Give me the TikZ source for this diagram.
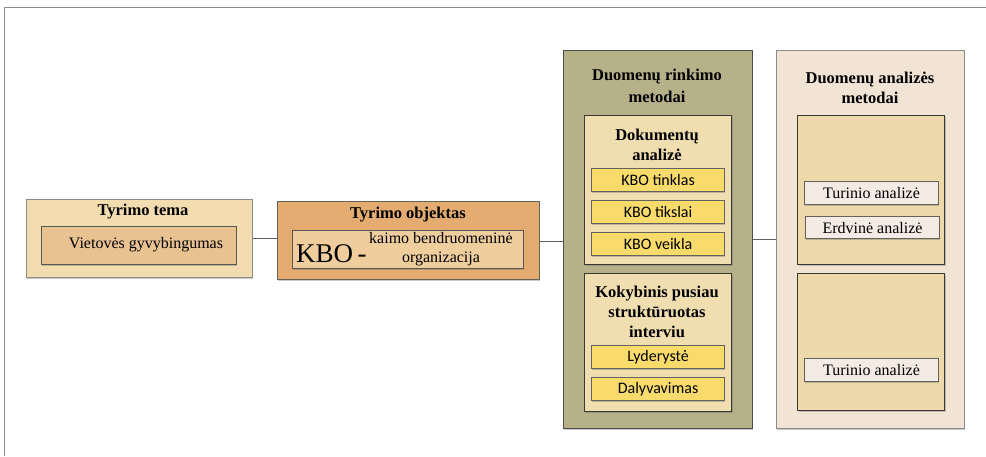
\documentclass[tikz,border=0pt]{standalone}
\usepackage{fontspec}
\setmainfont{Liberation Serif}
\newfontfamily\carlfont{Carlito}
\usetikzlibrary{shadows}
\definecolor{frameg}{HTML}{8A8A8A}
\definecolor{temaout}{HTML}{F3DDB0}
\definecolor{temain}{HTML}{E9C291}
\definecolor{objout}{HTML}{E4AC70}
\definecolor{objin}{HTML}{EFCD9C}
\definecolor{olive}{HTML}{B6B189}
\definecolor{innerc}{HTML}{F0DDB0}
\definecolor{yellowc}{HTML}{F9DB6C}
\definecolor{rightout}{HTML}{F2E4D4}
\definecolor{rightin}{HTML}{EDD9A9}
\definecolor{itemc}{HTML}{F4ECE4}
\definecolor{edge}{HTML}{3A3A35}
\tikzset{
  box/.style={draw=#1, rectangle, inner sep=0pt, anchor=north west,
    drop shadow={shadow xshift=0.8pt, shadow yshift=-1.2pt, opacity=0.35, fill=black!60}},
  outerbox/.style={box=frameg, line width=1.2pt},
  innerbox/.style={box=edge, line width=1.4pt},
  itembox/.style={box=edge!80, line width=1.1pt},
  ttl/.style={font=\fontsize{16.5}{20}\selectfont\bfseries, align=center, inner sep=0pt},
  itxt/.style={font=\carlfont\fontsize{16}{18}\selectfont, inner sep=0pt},
  stxt/.style={font=\fontsize{16}{18}\selectfont, inner sep=0pt},
  conn/.style={draw=edge!80, line width=0.9pt}
}
\begin{document}
\begin{tikzpicture}[x=1pt,y=-1pt]
\useasboundingbox (0,0) rectangle (986,456);
\fill[white] (0,0) rectangle (986,456);
% page frame
\draw[frameg, line width=0.9pt] (4,456) -- (4,7) -- (986,7);

% Tyrimo tema
\node[outerbox, fill=temaout, minimum width=226pt, minimum height=78pt] (tema) at (26,199) {};
\node[ttl] (temat) at (143,212) {Tyrimo tema};
\node[box=edge!85, line width=1.1pt, fill=temain, minimum width=195pt, minimum height=38pt] (temai) at (41,226) {};
\node[stxt] (temait) at (146,245) {Vietovės gyvybingumas};

% Tyrimo objektas
\node[outerbox, draw=edge!80, fill=objout, minimum width=262pt, minimum height=78pt] (obj) at (277,201) {};
\node[ttl] (objt) at (408,215) {Tyrimo objektas};
\node[box=edge!85, line width=1.1pt, fill=objin, minimum width=231pt, minimum height=38pt] (obji) at (292,230) {};
\node[font=\fontsize{27}{28}\selectfont, inner sep=0pt, anchor=base west] (kbo) at (296,262) {KBO\,-};
\node[stxt, align=center, font=\fontsize{16}{19}\selectfont] (kbot) at (441,249) {kaimo bendruomeninė\\organizacija};

% Duomenu rinkimo metodai
\node[outerbox, draw=edge!90, fill=olive, minimum width=189pt, minimum height=378pt] (rink) at (563,50) {};
\node[ttl, font=\fontsize{16.5}{22}\selectfont\bfseries] (rinkt) at (657,86) {Duomenų rinkimo\\metodai};
\node[innerbox, fill=innerc, minimum width=147pt, minimum height=149pt] (dok) at (584,115) {};
\node[ttl] (dokt) at (657,145) {Dokumentų\\analizė};
\node[itembox, fill=yellowc, minimum width=133pt, minimum height=23pt] (y1) at (591,168) {};
\node[itxt] (y1t) at (y1.center) {KBO tinklas};
\node[itembox, fill=yellowc, minimum width=133pt, minimum height=23pt] (y2) at (591,200) {};
\node[itxt] (y2t) at (y2.center) {KBO tikslai};
\node[itembox, fill=yellowc, minimum width=133pt, minimum height=23pt] (y3) at (591,232) {};
\node[itxt] (y3t) at (y3.center) {KBO veikla};
\node[innerbox, fill=innerc, minimum width=147pt, minimum height=138pt] (kok) at (584,273) {};
\node[ttl, font=\fontsize{16.5}{20}\selectfont\bfseries] (kokt) at (657,312) {Kokybinis pusiau\\struktūruotas\\interviu};
\node[itembox, fill=yellowc, minimum width=133pt, minimum height=23pt] (y4) at (591,345) {};
\node[itxt] (y4t) at (y4.center) {Lyderystė};
\node[itembox, fill=yellowc, minimum width=133pt, minimum height=23pt] (y5) at (591,377) {};
\node[itxt] (y5t) at (y5.center) {Dalyvavimas};

% Duomenu analizes metodai
\node[outerbox, fill=rightout, minimum width=188pt, minimum height=378pt] (anal) at (776,50) {};
\node[ttl] (analt) at (870,88) {Duomenų analizės\\metodai};
\node[innerbox, fill=rightin, minimum width=147pt, minimum height=149pt] (a1) at (797,115) {};
\node[itembox, fill=itemc, minimum width=134pt, minimum height=23pt] (t1) at (804,181) {};
\node[stxt] (t1t) at (t1.center) {Turinio analizė};
\node[itembox, fill=itemc, minimum width=134pt, minimum height=22pt] (t2) at (805,216) {};
\node[stxt] (t2t) at (t2.center) {Erdvinė analizė};
\node[innerbox, fill=rightin, minimum width=147pt, minimum height=137pt] (a2) at (797,273) {};
\node[itembox, fill=itemc, minimum width=134pt, minimum height=23pt] (t3) at (804,358) {};
\node[stxt] (t3t) at (t3.center) {Turinio analizė};

% connectors
\draw[conn] (tema.east) -- (tema.east -| obj.west);
\draw[conn] ([yshift=-1pt]obj.east) -- ([yshift=-1pt]obj.east -| rink.west);
\draw[conn] (rink.east) -- (rink.east -| anal.west);
\end{tikzpicture}
\end{document}
